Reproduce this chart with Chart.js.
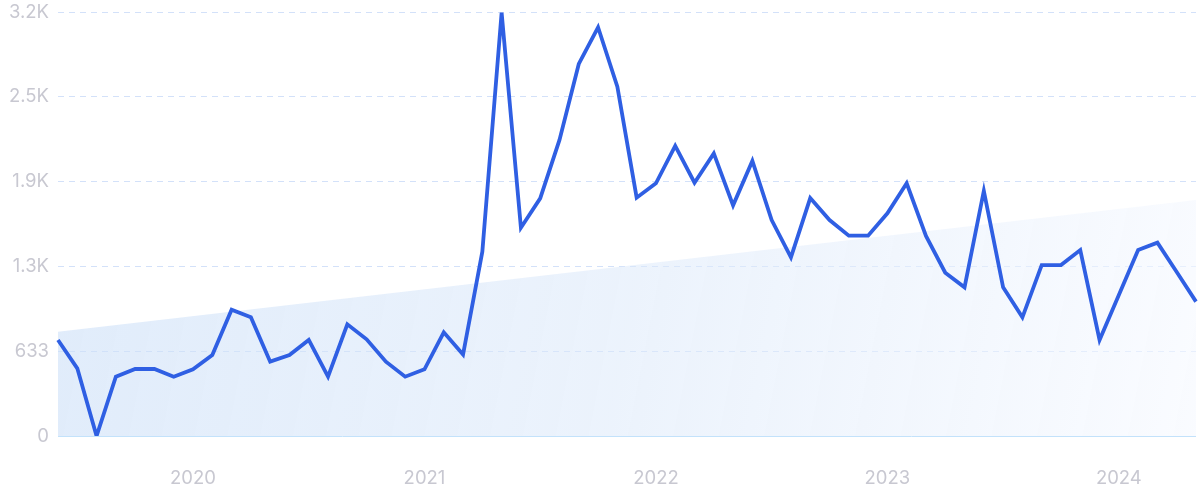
<!DOCTYPE html>
<html>
<head>
<meta charset="utf-8">
<script src="https://cdn.jsdelivr.net/npm/chart.js@4/dist/chart.umd.min.js"></script>
<style>
  html, body { margin: 0; padding: 0; background: #ffffff; overflow: hidden; }
  #wrap { width: 1200px; height: 502px; position: relative; }
  #c { display: block; }
</style>
</head>
<body>
<div id="wrap"><canvas id="c"></canvas></div>
<script>
// Months from Jun 2019 to May 2024
const months = [
  '2019-06','2019-07','2019-08','2019-09','2019-10','2019-11','2019-12',
  '2020-01','2020-02','2020-03','2020-04','2020-05','2020-06','2020-07','2020-08','2020-09','2020-10','2020-11','2020-12',
  '2021-01','2021-02','2021-03','2021-04','2021-05','2021-06','2021-07','2021-08','2021-09','2021-10','2021-11','2021-12',
  '2022-01','2022-02','2022-03','2022-04','2022-05','2022-06','2022-07','2022-08','2022-09','2022-10','2022-11','2022-12',
  '2023-01','2023-02','2023-03','2023-04','2023-05','2023-06','2023-07','2023-08','2023-09','2023-10','2023-11','2023-12',
  '2024-01','2024-02','2024-03','2024-04','2024-05'
];
const searches = [
  717, 505, 0, 443, 500, 500, 443,
  498, 605, 943, 886, 555, 605, 717, 443, 834, 722, 555, 443,
  498, 774, 608, 1376, 3160, 1555, 1774, 2210, 2777, 3051, 2608, 1779,
  1886, 2165, 1891, 2110, 1722, 2053, 1612, 1334, 1776, 1612, 1495,
  1495, 1662, 1886, 1493, 1219, 1110, 1829, 1110, 886, 1276, 1276, 1388,
  717, 1052, 1388, 1443, 1224, 1003
];
// Trend line: first and last values only (straight segment between)
const trendStart = 778;
const trendEnd = 1761;
const trend = months.map((m, i) => i === 0 ? trendStart : (i === months.length - 1 ? trendEnd : null));

const yTickValues = [0, 633, 1266, 1899, 2532, 3165];
const yTickLabels = ['0', '633', '1.3K', '1.9K', '2.5K', '3.2K'];

const FONT = 'Inter, "Open Sans", "DejaVu Sans", sans-serif';

const chart = new Chart(document.getElementById('c'), {
  type: 'line',
  data: {
    labels: months,
    datasets: [
      {
        label: 'Searches',
        data: searches,
        borderColor: '#2f5fe3',
        borderWidth: 3.8,
        pointRadius: 0,
        tension: 0,
        fill: false,
        order: 0,
        borderJoinStyle: 'miter'
      },
      {
        label: 'Trend',
        data: trend,
        spanGaps: true,
        borderWidth: 0,
        borderColor: 'rgba(0,0,0,0)',
        pointRadius: 0,
        tension: 0,
        fill: 'origin',
        order: 1,
        backgroundColor: (ctx) => {
          const ca = ctx.chart.chartArea;
          if (!ca) return 'rgba(210,228,250,0.7)';
          const g = ctx.chart.ctx.createLinearGradient(ca.left, ca.top + 200, ca.right, ca.bottom);
          g.addColorStop(0, 'rgba(205,224,248,0.62)');
          g.addColorStop(0.5, 'rgba(220,233,250,0.55)');
          g.addColorStop(1, 'rgba(246,249,255,0.6)');
          return g;
        }
      }
    ]
  },
  options: {
    responsive: true,
    maintainAspectRatio: false,
    animation: false,
    layout: { padding: { top: 12, right: 4, left: 0, bottom: 0 } },
    plugins: { legend: { display: false }, tooltip: { enabled: false } },
    scales: {
      x: {
        type: 'category',
        grid: { display: false, drawTicks: true, tickLength: 31 },
        border: { display: false },
        ticks: {
          autoSkip: false,
          maxRotation: 0,
          padding: 0,
          color: '#c8c8d1',
          font: { family: FONT, size: 18.5 },
          callback: function (val, idx) {
            const m = months[idx];
            return m.endsWith('-01') ? m.slice(0, 4) : '';
          }
        },
        afterFit: (s) => { s.height = 66; }
      },
      y: {
        min: 0,
        max: 3165,
        afterBuildTicks: (s) => { s.ticks = yTickValues.map(v => ({ value: v })); },
        grid: {
          drawTicks: true,
          tickLength: 9,
          tickColor: 'rgba(0,0,0,0)',
          lineWidth: 1,
          color: (ctx) => ctx.tick && ctx.tick.value === 0 ? '#c3e2fb' : 'rgba(200,218,248,0.8)'
        },
        border: {
          display: false,
          dash: (ctx) => ctx.tick && ctx.tick.value === 0 ? [] : [6, 5]
        },
        ticks: {
          padding: 0,
          color: '#c8c8d1',
          font: { family: FONT, size: 18.5 },
          callback: function (val) {
            const i = yTickValues.indexOf(val);
            return i >= 0 ? yTickLabels[i] : '';
          }
        },
        afterFit: (s) => { s.width = 58; }
      }
    }
  }
});
</script>
</body>
</html>
